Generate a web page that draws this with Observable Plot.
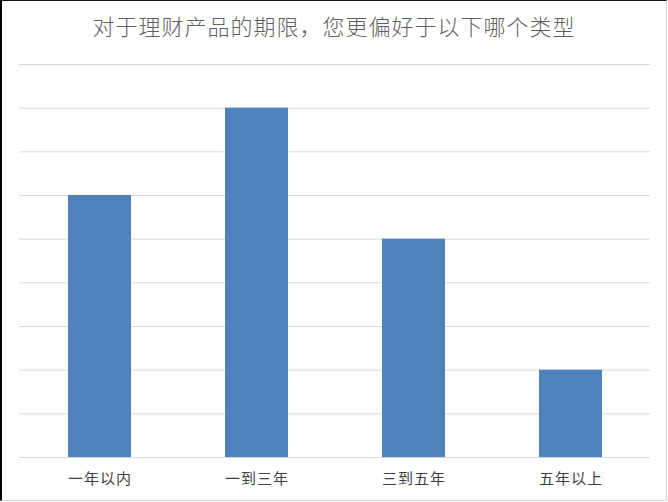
<!DOCTYPE html>
<html>
<head>
<meta charset="utf-8">
<script src="https://cdn.jsdelivr.net/npm/d3@7"></script>
<script src="https://cdn.jsdelivr.net/npm/@observablehq/plot@0.6"></script>
<style>
  html, body { margin: 0; padding: 0; background: #fff; }
  #wrap { position: relative; width: 668px; height: 502px; overflow: hidden; background: #fff;
          font-family: "Noto Sans CJK SC", "Noto Sans", sans-serif; }
  #title { position: absolute; left: 0; top: 0; width: 668px; height: 50px; line-height: 50px;
           text-align: center; font-size: 22px; letter-spacing: 1px; color: #5f5f5f; font-weight: 300; }
  #chart { position: absolute; left: 0; top: 50px; }
  #chart svg { font-family: "Noto Sans CJK SC", "Noto Sans", sans-serif; }
  #chart g[aria-label="x-axis tick label"] text { letter-spacing: 1px; }
  #frame { position: absolute; left: 0; top: 0; width: 667px; height: 501px; box-sizing: border-box;
           border-left: 2px solid #000; border-top: 1px solid #111;
           border-right: 1px solid #d9d9d9; border-bottom: 1px solid #d9d9d9; pointer-events: none; }
</style>
</head>
<body>
<div id="wrap">
  <div id="title">对于理财产品的期限，您更偏好于以下哪个类型</div>
  <div id="chart"></div>
  <div id="frame"></div>
</div>
<script>
const categories = ["一年以内", "一到三年", "三到五年", "五年以上"];
const values = [6, 8, 5, 2];
const yTicks = [0, 1, 2, 3, 4, 5, 6, 7, 8, 9];

const data = categories.map((c, i) => ({category: c, value: values[i]}));

const chart = Plot.plot({
  width: 668,
  height: 452,
  marginLeft: 19,
  marginRight: 18,
  marginTop: 14,
  marginBottom: 45,
  style: {background: "transparent", overflow: "visible"},
  x: {domain: categories, paddingInner: 0.6, paddingOuter: 0.3, label: null},
  y: {domain: [0, 9], axis: null},
  marks: [
    Plot.gridY(yTicks, {stroke: "#d9d9d9", strokeOpacity: 1, strokeWidth: 1}),
    Plot.barY(data, {x: "category", y: "value", fill: "#4f81bd"}),
    Plot.ruleY([0], {stroke: "#d9d9d9", strokeWidth: 1}),
    Plot.axisX({tickSize: 0, tickPadding: 16, fontSize: 15, fill: "#404040", label: null})
  ]
});
document.getElementById("chart").appendChild(chart);
</script>
</body>
</html>
